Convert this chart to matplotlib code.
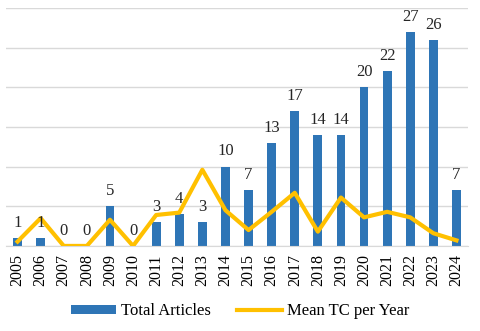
import numpy as np
import matplotlib
matplotlib.use("Agg")
import matplotlib.pyplot as plt

years = [str(y) for y in range(2005, 2025)]
total_articles = [1, 1, 0, 0, 5, 0, 3, 4, 3, 10, 7, 13, 17, 14, 14, 20, 22, 27, 26, 7]
mean_tc = [0.55, 3.5, 0, 0, 3.3, 0, 3.9, 4.2, 9.6, 4.5, 2.0, 4.3, 6.7, 1.8, 6.1, 3.6, 4.3, 3.6, 1.6, 0.7]

plt.rcParams['font.family'] = ['Liberation Serif', 'DejaVu Serif']

fig = plt.figure(figsize=(4.8, 3.31), dpi=100)
ax = fig.add_axes([0.0125, 0.257, 0.9625, 0.719])

x = np.arange(len(years))
bars = ax.bar(x, total_articles, width=0.38, color="#2E75B6", label="Total Articles", zorder=2)
line, = ax.plot(x, mean_tc, color="#FFC000", lw=3, label="Mean TC per Year", zorder=3)

for xi, v in zip(x, total_articles):
    ax.text(xi, v + 0.9, str(v), ha="center", va="bottom", fontsize=12, color="#262626")

ax.set_ylim(0, 30)
ax.set_xlim(-0.5, len(years) - 0.5)
ax.set_yticks(range(0, 31, 5))
ax.set_yticklabels([])
ax.tick_params(axis="y", length=0)
ax.grid(axis="y", color="#D9D9D9", lw=1, zorder=0)
ax.set_xticks(x)
ax.set_xticklabels(years, rotation=90, fontsize=11.5)
ax.tick_params(axis="x", length=0, pad=6)
for s in ["top", "right", "left"]:
    ax.spines[s].set_visible(False)
ax.spines["bottom"].set_color("#D9D9D9")

fig.legend([bars, line], ["Total Articles", "Mean TC per Year"],
           loc="lower center", bbox_to_anchor=(0.5, -0.01), ncol=2, frameon=False,
           fontsize=12, handlelength=2.7, handleheight=0.5, handletextpad=0.3,
           columnspacing=1.6)

fig.savefig("out.png", dpi=100)
